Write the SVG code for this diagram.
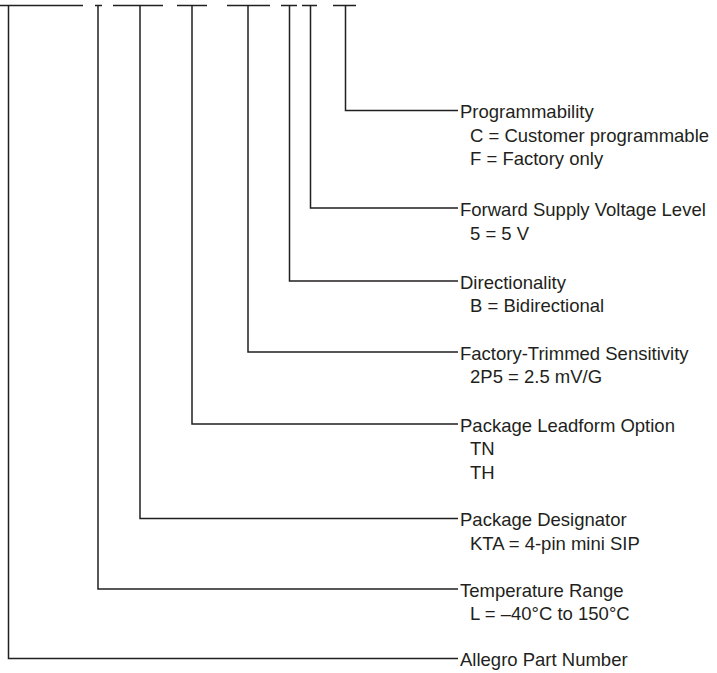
<svg xmlns="http://www.w3.org/2000/svg" width="717" height="673" viewBox="0 0 717 673">
<style>
.c{fill:none;stroke:#231f20;stroke-width:1.5}
.t{font-family:"Liberation Sans",Arial,sans-serif;font-size:18.5px;fill:#231f20}
</style>
<rect width="717" height="673" fill="#fff"/>
<g id="connectors" class="c">
<path d="M0 5.5H83M95 5.5H102M113 5.5H163M177 5.5H207M227 5.5H270M281 5.5H297M302 5.5H317M333 5.5H356"/>
<path d="M8.5 5.5V658.5H458"/>
<path d="M98 5.5V589H458"/>
<path d="M140 5.5V518.5H458"/>
<path d="M192 5.5V424H458"/>
<path d="M248 5.5V352H458"/>
<path d="M289.5 5.5V281H458"/>
<path d="M310.5 5.5V208H458"/>
<path d="M345.5 5.5V110.5H458"/>
</g>
<g id="n-prog" class="t"><text x="460" y="118">Programmability</text><text x="470" y="141.5">C = Customer programmable</text><text x="470" y="165">F = Factory only</text></g>
<g id="n-volt" class="t"><text x="460" y="216">Forward Supply Voltage Level</text><text x="470" y="239.5">5 = 5 V</text></g>
<g id="n-dir" class="t"><text x="460" y="288.5">Directionality</text><text x="470" y="312">B = Bidirectional</text></g>
<g id="n-sens" class="t"><text x="460" y="359.5">Factory-Trimmed Sensitivity</text><text x="470" y="383">2P5 = 2.5 mV/G</text></g>
<g id="n-lead" class="t"><text x="460" y="431.5">Package Leadform Option</text><text x="470" y="455">TN</text><text x="470" y="478.5">TH</text></g>
<g id="n-pkg" class="t"><text x="460" y="526">Package Designator</text><text x="470" y="549.5">KTA = 4-pin mini SIP</text></g>
<g id="n-temp" class="t"><text x="460" y="596.5">Temperature Range</text><text x="470" y="620">L = –40°C to 150°C</text></g>
<g id="n-part" class="t"><text x="460" y="666">Allegro Part Number</text></g>
</svg>
